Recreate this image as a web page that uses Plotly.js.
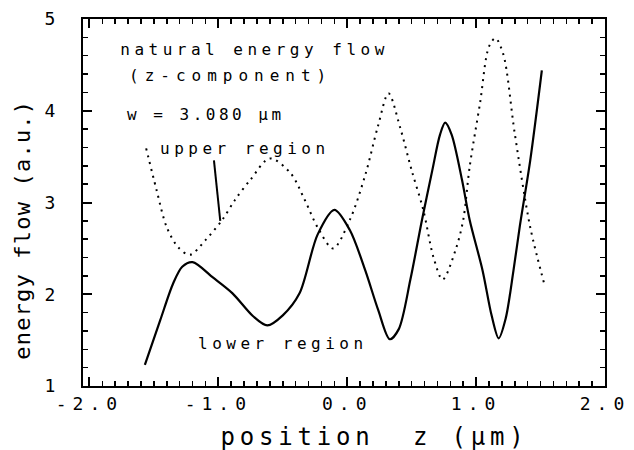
<!DOCTYPE html>
<html>
<head>
<meta charset="utf-8">
<script src="https://cdn.plot.ly/plotly-3.0.1.min.js"></script>
<style>
  html, body { margin: 0; padding: 0; background: #fff; }
  .xtick text { letter-spacing: 6px; }
  g.annotation text.annotation-text { letter-spacing: 4.5px; }
  g.annotation[data-index="1"] text.annotation-text { letter-spacing: 6px; }
  g.annotation[data-index="2"] text.annotation-text { letter-spacing: 3.5px; }
  g.annotation[data-index="5"] text.annotation-text { letter-spacing: 4.8px; }
  g.annotation[data-index="6"] text.annotation-text { letter-spacing: 1.2px; }
</style>
</head>
<body>
<div id="chart" style="width:634px;height:450px;"></div>
<script>
// lower region (solid curve)
const lowerX = [-1.57, -1.45, -1.35, -1.28, -1.20, -1.04, -0.89, -0.73, -0.62, -0.50, -0.37, -0.23, -0.10, 0.02, 0.14, 0.24, 0.33, 0.40, 0.49, 0.58, 0.66, 0.72, 0.76, 0.81, 0.89, 0.95, 1.05, 1.12, 1.175, 1.23, 1.29, 1.34, 1.42, 1.51];
const lowerY = [1.23, 1.72, 2.12, 2.30, 2.35, 2.18, 2.01, 1.76, 1.66, 1.77, 2.01, 2.65, 2.92, 2.70, 2.26, 1.83, 1.51, 1.62, 2.16, 2.81, 3.35, 3.74, 3.87, 3.74, 3.25, 2.81, 2.26, 1.77, 1.52, 1.74, 2.26, 2.75, 3.46, 4.44];

// upper region (dotted curve)
const upperX = [-1.56, -1.48, -1.40, -1.31, -1.22, -1.10, -0.97, -0.87, -0.75, -0.60, -0.44, -0.33, -0.23, -0.11, 0.02, 0.14, 0.24, 0.32, 0.41, 0.50, 0.59, 0.67, 0.74, 0.84, 0.90, 0.95, 1.03, 1.10, 1.15, 1.21, 1.30, 1.42, 1.535];
const upperY = [3.59, 3.14, 2.73, 2.51, 2.43, 2.59, 2.81, 3.03, 3.25, 3.48, 3.32, 3.03, 2.73, 2.50, 2.81, 3.30, 3.84, 4.19, 3.82, 3.35, 2.92, 2.40, 2.16, 2.48, 2.81, 3.39, 4.08, 4.70, 4.79, 4.62, 3.75, 2.73, 2.08];

// axis ticks
const xTickVals = [-2, -1, 0, 1, 2];
const xTickText = ["-2.0", "-1.0", "0.0", "1.0", "2.0"];
const yTickVals = [1, 2, 3, 4, 5];
const yTickText = ["1", "2", "3", "4", "5"];

// text labels
const titleLines = ["natural energy flow", "(z-component)", "w = 3.080 μm"];
const upperLabel = "upper region";
const lowerLabel = "lower region";
const xTitle = "position  z (μm)";
const yTitle = "energy flow (a.u.)";

const font = "DejaVu Sans Mono, Liberation Mono, monospace";

const traces = [
  {
    x: lowerX, y: lowerY, type: "scatter", mode: "lines", name: lowerLabel,
    line: { color: "#000", width: 2.2, shape: "spline", smoothing: 0.85 }
  },
  {
    x: upperX, y: upperY, type: "scatter", mode: "lines", name: upperLabel,
    line: { color: "#000", width: 2, dash: "2px,5px", shape: "spline", smoothing: 0.9 }
  },
  { x: [], y: [], type: "scatter", mode: "lines", yaxis: "y2", showlegend: false, hoverinfo: "skip" }
];

const layout = {
  width: 634, height: 450,
  margin: { l: 83, r: 29, t: 19, b: 64 },
  paper_bgcolor: "#fff", plot_bgcolor: "#fff",
  showlegend: false,
  xaxis: {
    range: [-2.05, 2.0], tickmode: "array", tickvals: xTickVals, ticktext: xTickText,
    showgrid: false, zeroline: false, showline: true, linecolor: "#000", linewidth: 2,
    mirror: "ticks", ticks: "inside", tickcolor: "#000", tickwidth: 2, ticklen: 9,
    tickfont: { family: font, size: 18, color: "#000" },
    minor: { dtick: 0.1, ticks: "inside", ticklen: 5, tickcolor: "#000", tickwidth: 1.5 }
  },
  yaxis: {
    range: [1, 5], tickmode: "array", tickvals: yTickVals, ticktext: yTickText,
    showgrid: false, zeroline: false, showline: true, linecolor: "#000", linewidth: 2,
    mirror: true, ticks: "outside", ticklen: 22, tickwidth: 1, tickcolor: "rgba(0,0,0,0)",
    tickfont: { family: font, size: 18, color: "#000" }
  },
  yaxis2: {
    overlaying: "y", anchor: "x", side: "left", range: [1, 5],
    tickmode: "array", tickvals: yTickVals, showticklabels: false,
    showgrid: false, zeroline: false, showline: false,
    mirror: "ticks", ticks: "inside", tickcolor: "#000", tickwidth: 2, ticklen: 9,
    minor: { dtick: 0.2, ticks: "inside", ticklen: 5, tickcolor: "#000", tickwidth: 1.5 }
  },
  shapes: [
    { type: "line", xref: "x", yref: "y", x0: -1.034, y0: 3.46, x1: -0.985, y1: 2.80,
      line: { color: "#000", width: 2 } }
  ],
  annotations: [
    { text: titleLines[0], xref: "paper", yref: "paper", x: 0.3276, y: 0.918, showarrow: false, xanchor: "center", yanchor: "middle", font: { family: font, size: 16, color: "#000" } },
    { text: titleLines[1], xref: "paper", yref: "paper", x: 0.2826, y: 0.847, showarrow: false, xanchor: "center", yanchor: "middle", font: { family: font, size: 16, color: "#000" } },
    { text: titleLines[2], xref: "paper", yref: "paper", x: 0.2356, y: 0.741, showarrow: false, xanchor: "center", yanchor: "middle", font: { family: font, size: 16, color: "#000" } },
    { text: upperLabel, xref: "paper", yref: "paper", x: 0.310, y: 0.646, showarrow: false, xanchor: "center", yanchor: "middle", font: { family: font, size: 16, color: "#000" } },
    { text: lowerLabel, xref: "paper", yref: "paper", x: 0.384, y: 0.117, showarrow: false, xanchor: "center", yanchor: "middle", font: { family: font, size: 16, color: "#000" } },
    { text: xTitle, xref: "paper", yref: "paper", x: 0.559, y: -0.139, showarrow: false, xanchor: "center", yanchor: "middle", font: { family: font, size: 24, color: "#000" } },
    { text: yTitle, xref: "paper", yref: "paper", x: -0.117, y: 0.425, showarrow: false, xanchor: "center", yanchor: "middle", textangle: -90, font: { family: font, size: 22, color: "#000" } }
  ]
};

Plotly.newPlot("chart", traces, layout, { staticPlot: true, displayModeBar: false });
</script>
</body>
</html>
